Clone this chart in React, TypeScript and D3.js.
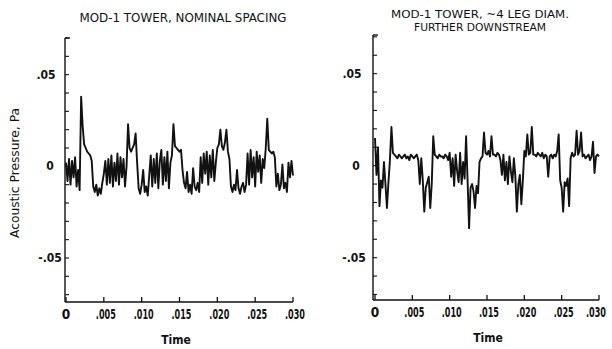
import React from "react";
import * as d3 from "d3";

// Acoustic pressure traces, values in milli-Pascal, sampled every 0.0002 s from 0 to 0.030 s
const SAMPLE_STEP = 0.0002;
const nominalSpacingMilliPa = [
  2, -8, 4, -10, 3, -6, 5, -11, -2, -13,
  38, 22, 12, 10, 8, 7, 6, 3,
  -11, -14, -10, -16, -12, -15, -9,
  -4, 3, -10, 4,
  -9, 6, -11, 2, -8, 7, -10, 5, -6, 4, -11,
  0, 23, 10, 8, 10, 12, 18, 2,
  -12, -15, -10, -2, -14, -11, -16, -5,
  6, -11, 4, -9, 7, -12, 3,
  9, -10, 5, -8, 8, -12, 2, 6,
  23, 11, 10, 9, 8, 9, -2, -9,
  -12, -3, -14, -10, -15, -1, -11, -13, -9, -14,
  5, -9, 7, -4, 8, -10, 6, -6, 9, -8,
  2, 10, 12, 20, 11, 9, 13, 20, 8, 4,
  -11, -14, -10, -13, -2, -12, -15, -11, -9, -14, -10,
  7, -10, 9, -6, 5, -11, 8, -3, 6, -9, 4,
  -1, 10, 26, 9, 8, 7, 8, 5,
  -11, -4, -13, -10, 1, -12, -9, -14, 2,
  -6, 3, -5,
];
const downstreamMilliPa = [
  15, -5, 10, -22, -8, -12, 2, -10, -23, -9, 3, 21, 7,
  6, 5, 4, 6, 5, 4, 5, 6, 4, 5, 3, 6, 5, 4, 5, 6, 3,
  -10, 4, -8, -25, -12, -9, -6, -23, -10, 16, 6,
  5, 4, 6, 5, 5, 4, 6, 5, 3,
  7, -6, 4, -11, 6, -3, -9, 7, -10, 2, -7,
  16, -8, -34, -12, -10, -14, -23, -11, -15, 2, 4, 5, 18, 7, 6, 8, 5, 16, 6,
  6, 5, 7, 6,
  3, -5, 6, -8, 2, -10, 5, -3, -9, 4, -6,
  -25, -10, -5, -21, -8, 8, 5, 17, 6, 7, 21, 6,
  6, 5, 7, 6, 5, 7, 4, 6, 5, -6, 5, 6, 4, 6, 5,
  8, 17, -8, -12, -25, -9, -11, -7, -22, 4, 7, 5, 6, 19, 6, 8, 18, 5,
  6, 4, 5, 6, 3, 5, 13, -4, 5, 6, 5,
];

const xTickValues = [0, 0.005, 0.01, 0.015, 0.02, 0.025, 0.03];
const xTickLabels = ["0", ".005", ".010", ".015", ".020", ".025", ".030"];
const yLabelValues = [0.05, 0, -0.05];
const yLabelTexts = [".05", "0", "-.05"];
const yMinorTicks = [-0.07, -0.06, -0.05, -0.04, -0.03, -0.02, -0.01, 0, 0.01, 0.02, 0.03, 0.04, 0.05, 0.06, 0.07];

const FONT = "'DejaVu Sans Condensed', 'Liberation Sans Narrow', 'DejaVu Sans', sans-serif";

type PanelProps = {
  data: number[];
  x0: number; x1: number; axisX: number;
  yTop: number; yBottom: number;
  yDomain: [number, number];
  titleLines: { text: string; x: number; y: number; len: number }[];
  titleSize: number;
  timeX: number; timeY: number;
  yLabelX: number[];
  lastLabelShift: number;
};

function Panel(p: PanelProps) {
  const x = d3.scaleLinear().domain([0, 0.03]).range([p.x0, p.x1]);
  const y = d3.scaleLinear().domain(p.yDomain).range([p.yBottom, p.yTop]);
  const pts: [number, number][] = p.data.map((v, i) => [i * SAMPLE_STEP, v / 1000]);
  const line = d3.line<[number, number]>().x(d => x(d[0])).y(d => y(d[1]));
  return (
    <g>
      {p.titleLines.map((t, i) => (
        <text key={i} x={t.x} y={t.y} textAnchor="middle" dominantBaseline="central"
          fontFamily={FONT} fontSize={p.titleSize} textLength={t.len} lengthAdjust="spacingAndGlyphs" fill="#111">{t.text}</text>
      ))}
      <line x1={p.axisX} x2={p.axisX} y1={p.yTop} y2={p.yBottom} stroke="#111" strokeWidth={1.4} />
      <line x1={p.axisX} x2={p.axisX + 5} y1={p.yTop} y2={p.yTop} stroke="#111" strokeWidth={1.4} />
      {yMinorTicks.map(v => (
        <line key={v} x1={p.axisX} x2={p.axisX + 4} y1={y(v)} y2={y(v)} stroke="#111" strokeWidth={1.1} />
      ))}
      {yLabelValues.map((v, i) => (
        <text key={v} x={p.yLabelX[i]} y={y(v)} textAnchor="middle" dominantBaseline="central"
          fontFamily={FONT} fontSize={12} fontWeight="bold" fill="#111">{yLabelTexts[i]}</text>
      ))}
      <line x1={p.axisX} x2={p.x1} y1={p.yBottom} y2={p.yBottom} stroke="#111" strokeWidth={1.4} />
      {xTickValues.map(v => (
        <line key={v} x1={x(v)} x2={x(v)} y1={p.yBottom} y2={p.yBottom - 5} stroke="#111" strokeWidth={1.3} />
      ))}
      {xTickValues.map((v, i) => (
        <text key={v}
          x={x(v) + (i === 0 ? 0 : i === xTickValues.length - 1 ? p.lastLabelShift : 2)}
          y={p.yBottom + 12} textAnchor="middle" dominantBaseline="central"
          fontFamily={FONT} fontSize={13.5} fontWeight="bold" fill="#111"
          {...(xTickLabels[i].length > 1 ? { textLength: 20, lengthAdjust: "spacingAndGlyphs" } : {})}>{xTickLabels[i]}</text>
      ))}
      <text x={p.timeX} y={p.timeY} textAnchor="middle" dominantBaseline="central"
        fontFamily={FONT} fontSize={12} fontWeight="bold" fill="#111">Time</text>
      <path d={line(pts) || ""} fill="none" stroke="#111" strokeWidth={1.9} strokeLinejoin="round" />
    </g>
  );
}

export default function App() {
  return (
    <svg width={612} height={349} viewBox="0 0 612 349" style={{ position: "absolute", left: 0, top: 0, background: "#fff" }}>
      <rect x={0} y={0} width={612} height={349} fill="#fff" />
      <text transform="translate(15,173) rotate(-90)" textAnchor="middle" dominantBaseline="central"
        fontFamily={FONT} fontSize={12} textLength={130} lengthAdjust="spacingAndGlyphs" fill="#111">Acoustic Pressure, Pa</text>
      <Panel data={nominalSpacingMilliPa} x0={66} x1={293} axisX={65} yTop={38} yBottom={302}
        yDomain={[-0.074, 0.07]}
        titleLines={[{ text: "MOD-1 TOWER, NOMINAL SPACING", x: 183, y: 18, len: 207 }]}
        titleSize={12}
        timeX={176} timeY={340} yLabelX={[46, 50, 50]} lastLabelShift={2} />
      <Panel data={downstreamMilliPa} x0={375} x1={599} axisX={373} yTop={35} yBottom={300}
        yDomain={[-0.073, 0.071]}
        titleLines={[
          { text: "MOD-1 TOWER, ~4 LEG DIAM.", x: 480, y: 14, len: 178 },
          { text: "FURTHER DOWNSTREAM", x: 480, y: 27, len: 132 },
        ]}
        titleSize={11}
        timeX={488} timeY={338} yLabelX={[352, 356, 354]} lastLabelShift={-3} />
    </svg>
  );
}
